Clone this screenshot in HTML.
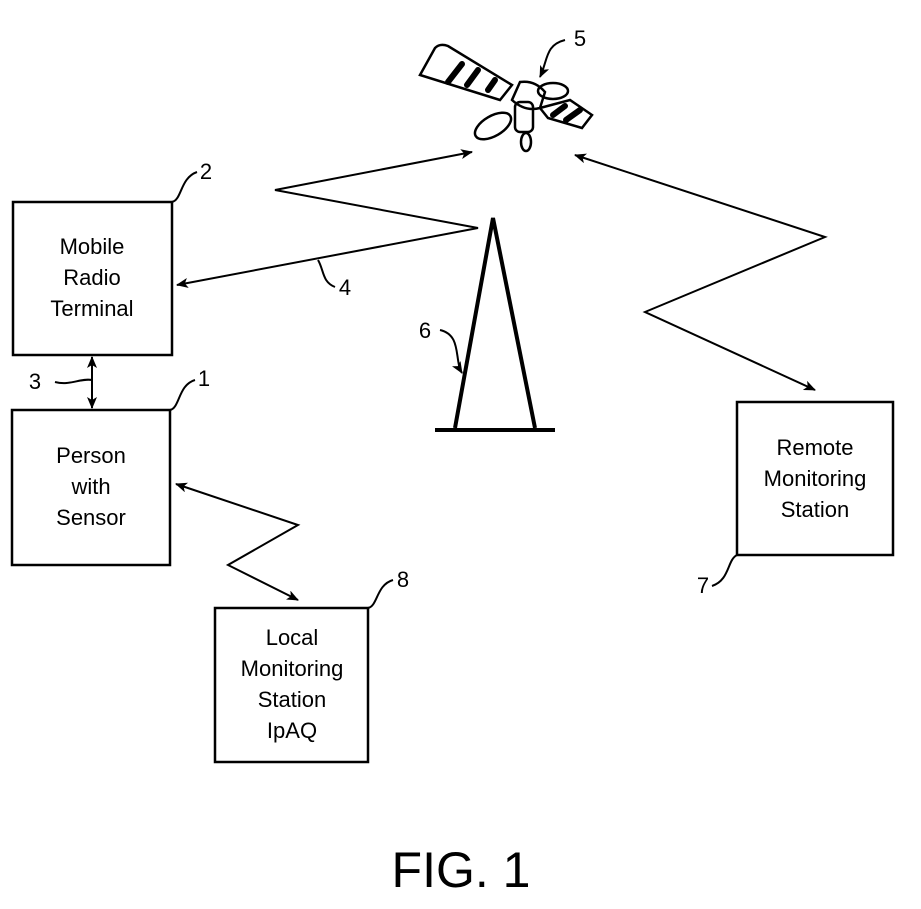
<!DOCTYPE html>
<html><head><style>body{margin:0;background:#fff}</style></head><body>
<svg width="921" height="909" xmlns="http://www.w3.org/2000/svg" style="display:block">
<defs><marker id="a" markerWidth="12" markerHeight="10" refX="11" refY="5" orient="auto-start-reverse" markerUnits="userSpaceOnUse"><path d="M0,0 L12,5 L0,10 L3,5z" fill="#000"/></marker></defs>
<g fill="none" stroke="#000" stroke-width="2.5">
<rect x="13" y="202" width="159" height="153"/>
<rect x="12" y="410" width="158" height="155"/>
<rect x="215" y="608" width="153" height="154"/>
<rect x="737" y="402" width="156" height="153"/>
</g>
<g fill="none" stroke="#000" stroke-width="2">
<polyline points="472,152 275,190 478,228 177,285" marker-start="url(#a)" marker-end="url(#a)"/>
<polyline points="575,155 825,237 645,312 815,390" marker-start="url(#a)" marker-end="url(#a)"/>
<polyline points="176,484 298,525 228,565 298,600" marker-start="url(#a)" marker-end="url(#a)"/>
<line x1="92" y1="357" x2="92" y2="408" marker-start="url(#a)" marker-end="url(#a)"/>
<path d="M172,202 C182,200 180,178 197,172"/>
<path d="M170,410 C180,408 178,385 195,380"/>
<path d="M368,608 C378,606 376,585 393,580"/>
<path d="M737,555 C727,560 730,580 712,586"/>
<path d="M92,380 C80,378 70,386 55,382"/>
<path d="M318,260 C324,270 322,282 335,287"/>
<path d="M440,330 C462,335 454,360 462,373" marker-end="url(#a)"/>
<path d="M565,40 C545,45 548,60 540,77" marker-end="url(#a)"/>
</g>
<g stroke="#000" stroke-width="4" fill="none">
<polyline points="455,428 493,218 535,428"/>
<line x1="435" y1="430" x2="555" y2="430"/>
</g>
<g fill="none" stroke="#000" stroke-width="2.5">
<path d="M420,75 L435,48 Q440,43 448,46 L512,85 L500,100 Z"/>
<path d="M520,82 Q535,80 545,92 L540,108 Q525,112 512,100 Z"/>
<ellipse cx="493" cy="126" rx="20" ry="10" transform="rotate(-30 493 126)"/>
<rect x="515" y="102" width="18" height="30" rx="5"/>
<ellipse cx="526" cy="142" rx="5" ry="9"/>
<ellipse cx="553" cy="91" rx="15" ry="8"/>
<path d="M540,108 L570,100 L592,115 L582,128 L548,118 Z"/>
</g>
<g stroke="#000" stroke-width="6" stroke-linecap="round">
<line x1="448" y1="82" x2="462" y2="64"/><line x1="467" y1="85" x2="478" y2="70"/><line x1="488" y1="90" x2="495" y2="80"/>
<line x1="553" y1="115" x2="565" y2="106"/><line x1="566" y1="120" x2="580" y2="110"/>
</g>
<g font-family="Liberation Sans, sans-serif" font-size="22" text-anchor="middle" fill="#000">
<text x="92" y="254">Mobile</text><text x="92" y="285">Radio</text><text x="92" y="316">Terminal</text>
<text x="91" y="463">Person</text><text x="91" y="494">with</text><text x="91" y="525">Sensor</text>
<text x="292" y="645">Local</text><text x="292" y="676">Monitoring</text><text x="292" y="707">Station</text><text x="292" y="738">IpAQ</text>
<text x="815" y="455">Remote</text><text x="815" y="486">Monitoring</text><text x="815" y="517">Station</text>
<text x="206" y="179">2</text><text x="204" y="386">1</text><text x="35" y="389">3</text>
<text x="345" y="295">4</text><text x="580" y="46">5</text><text x="425" y="338">6</text>
<text x="703" y="593">7</text><text x="403" y="587">8</text>
<text x="461" y="887" font-size="50">FIG. 1</text>
</g>
</svg>
</body></html>
